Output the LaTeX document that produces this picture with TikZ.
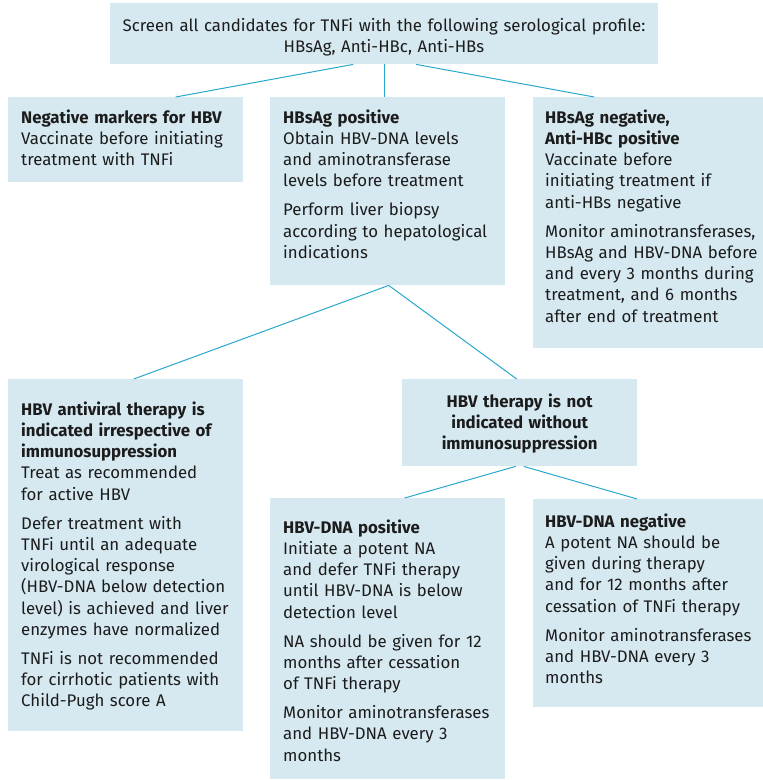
\documentclass[tikz,border=0pt]{standalone}
\usepackage{fontspec}
\setmainfont{Fira Sans}
\definecolor{boxfill}{RGB}{214,233,241}
\definecolor{linkcol}{RGB}{40,168,204}
\definecolor{inkcol}{RGB}{28,28,28}
\newcommand{\gapline}{\\[7.5pt]}
\begin{document}
\begin{tikzpicture}[x=1pt,y=-1pt,
    box/.style={fill=boxfill,anchor=north west,inner sep=0pt},
    txt/.style={anchor=base west,inner sep=0pt,text width=235pt,align=left,text=inkcol,font=\fontsize{16.8}{21.3}\selectfont},
    ctxt/.style={txt,anchor=base,align=center},
    link/.style={draw=linkcol,line width=1pt}]
\useasboundingbox (0,0) rectangle (763,780);
% boxes
\node[box,minimum width=548pt,minimum height=61pt] (screen) at (110,3) {};
\node[box,minimum width=235pt,minimum height=85pt] (neg) at (8,97) {};
\node[box,minimum width=235pt,minimum height=188pt] (hbspos) at (270,97) {};
\node[box,minimum width=230pt,minimum height=251pt] (hbsneg) at (533,97) {};
\node[box,minimum width=235pt,minimum height=352pt] (antiv) at (8,379) {};
\node[box,minimum width=235pt,minimum height=87pt] (notind) at (402,379) {};
\node[box,minimum width=235pt,minimum height=281pt] (dnapos) at (270,498) {};
\node[box,minimum width=230pt,minimum height=208pt] (dnaneg) at (533,499) {};
% texts
\node[ctxt,text width=540pt] (screenT) at (384,31) {Screen all candidates for TNFi with the following serological profile:\\ HBsAg, Anti-HBc, Anti-HBs};
\node[txt] (negT) at ([shift={(13,26)}]neg.north west) {\textbf{Negative markers for HBV}\\ Vaccinate before initiating\\ treatment with TNFi};
\node[txt] (hbsposT) at ([shift={(13,26)}]hbspos.north west) {\textbf{HBsAg positive}\\ Obtain HBV-DNA levels\\ and aminotransferase\\ levels before treatment\gapline Perform liver biopsy\\ according to hepatological\\ indications};
\node[txt] (hbsnegT) at ([shift={(12,26)}]hbsneg.north west) {\textbf{HBsAg negative,}\\ \textbf{Anti-HBc positive}\\ Vaccinate before\\ initiating treatment if\\ anti-HBs negative\gapline Monitor aminotransferases,\\ HBsAg and HBV-DNA before\\ and every 3 months during\\ treatment, and 6 months\\ after end of treatment};
\node[txt] (antivT) at ([shift={(13,36)}]antiv.north west) {\textbf{HBV antiviral therapy is}\\ \textbf{indicated irrespective of}\\ \textbf{immunosuppression}\\ Treat as recommended\\ for active HBV\gapline Defer treatment with\\ TNFi until an adequate\\ virological response\\ (HBV-DNA below detection\\ level) is achieved and liver\\ enzymes have normalized\gapline TNFi is not recommended\\ for cirrhotic patients with\\ Child-Pugh score A};
\node[ctxt] (notindT) at ([shift={(0,28)}]notind.north) {\bfseries HBV therapy is not\\ indicated without\\ immunosuppression};
\node[txt] (dnaposT) at ([shift={(13,35)}]dnapos.north west) {\textbf{HBV-DNA positive}\\ Initiate a potent NA\\ and defer TNFi therapy\\ until HBV-DNA is below\\ detection level\gapline NA should be given for 12\\ months after cessation\\ of TNFi therapy\gapline Monitor aminotransferases\\ and HBV-DNA every 3\\ months};
\node[txt] (dnanegT) at ([shift={(12,28)}]dnaneg.north west) {\textbf{HBV-DNA negative}\\ A potent NA should be\\ given during therapy\\ and for 12 months after\\ cessation of TNFi therapy\gapline Monitor aminotransferases\\ and HBV-DNA every 3\\ months};
% connectors
\draw[link] ([xshift=-31]screen.south) -- ([xshift=50]neg.north);
\draw[link] (screen.south) -- (screen.south |- hbspos.north);
\draw[link] ([xshift=32]screen.south) -- ([xshift=-54]hbsneg.north);
\draw[link] ([xshift=1]hbspos.south) -- ([xshift=8]antiv.north);
\draw[link] ([xshift=1]hbspos.south) -- ([xshift=-3]notind.north);
\draw[link] ([xshift=-4]notind.south) -- ([xshift=17]dnapos.north);
\draw[link] ([xshift=4]notind.south) -- ([xshift=-11]dnaneg.north);
\end{tikzpicture}
\end{document}
